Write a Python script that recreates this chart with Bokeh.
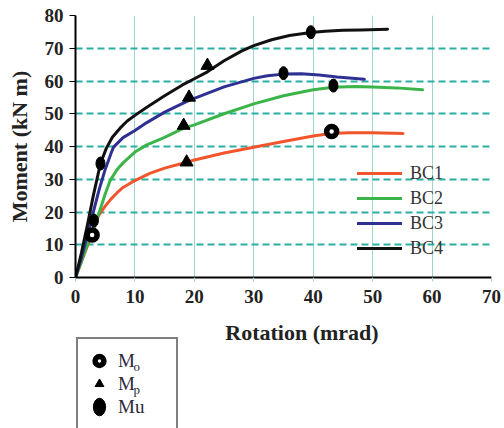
from bokeh.plotting import figure
from bokeh.models import Range1d, Legend, LegendItem, Label, FixedTicker
from bokeh.layouts import column
from bokeh.core.properties import value
from bokeh.embed import file_html
from bokeh.resources import INLINE

# ---- data ----
x_ticks = [0, 10, 20, 30, 40, 50, 60, 70]
y_ticks = [0, 10, 20, 30, 40, 50, 60, 70, 80]

bc1_x = [0, 1, 2, 3, 3.9, 5, 6, 7, 8, 10, 12.5, 15, 18.7, 20, 25, 30, 35, 40, 43, 46, 50, 55.1]
bc1_y = [0, 4.8, 9.6, 14.5, 19.0, 21.8, 24.0, 25.9, 27.5, 29.6, 31.8, 33.4, 35.2, 35.9, 38.0, 39.8, 41.5, 43.2, 44.0, 44.2, 44.2, 44.0]

bc2_x = [0, 1, 2, 3, 3.9, 5, 5.8, 7, 8, 10, 12, 15, 18.2, 20, 25, 30, 35, 40, 43.4, 47, 50, 54, 58.4]
bc2_y = [0, 5, 10, 15, 19.4, 25.5, 29.5, 33, 35, 38.3, 40.5, 42.8, 45.6, 46.6, 50, 53, 55.5, 57.3, 58.1, 58.3, 58.2, 57.9, 57.3]

bc3_x = [0, 1, 2, 3, 4, 5, 6, 6.4, 8, 10, 12, 15, 19.1, 20, 25, 30, 32.3, 35, 38, 41, 44, 48.6]
bc3_y = [0, 6, 13, 20, 27, 33, 38, 39.8, 42.7, 44.9, 47.3, 50.5, 54.1, 54.7, 58.2, 60.8, 61.6, 62.1, 62.2, 61.8, 61.2, 60.5]

bc4_x = [0, 1, 2, 3, 4.2, 5.2, 6.2, 7.5, 8.7, 10, 12, 15, 18, 20, 22.2, 25, 28, 30, 33, 36, 39.6, 42, 45, 48, 52.5]
bc4_y = [0, 7.5, 16, 25, 34.8, 39.5, 42.8, 45.6, 47.8, 49.5, 52, 55.5, 58.8, 60.7, 62.8, 66.2, 69.2, 70.8, 72.6, 73.9, 74.8, 75.2, 75.5, 75.6, 75.8]

series_names = ["BC1", "BC2", "BC3", "BC4"]
series_colors = ["#F2552C", "#3BB54A", "#2E3192", "#111111"]

mo_x = [43.1, 2.8]
mo_y = [44.6, 13.0]
mp_x = [18.7, 18.2, 19.1, 22.2]
mp_y = [35.2, 46.4, 55.0, 64.7]
mu_x = [43.4, 35.0, 39.6, 4.2, 3.1]
mu_y = [58.6, 62.4, 74.9, 34.8, 17.4]

marker_names = ["M", "M", "Mu"]
marker_subs = ["o", "p"]

SERIF = "Liberation Serif"
TEXT = "#222222"

MO_STYLE = dict(marker="circle", size=10, fill_color="white", line_color="black", line_width=5.5)
MP_STYLE = dict(marker="triangle", size=13, fill_color="black", line_color="black")
MU_STYLE = dict(width=9, height=13, width_units="screen", height_units="screen",
                fill_color="black", line_color="black")

# ---------------- main chart ----------------
p = figure(width=504, height=312, x_range=Range1d(0, 70), y_range=Range1d(0, 80),
           output_backend="svg", toolbar_location=None,
           min_border_left=75, min_border_right=13, min_border_top=15, min_border_bottom=35)
p.outline_line_color = None
p.background_fill_color = "white"
p.border_fill_color = "white"

p.xaxis.ticker = FixedTicker(ticks=x_ticks)
p.yaxis.ticker = FixedTicker(ticks=y_ticks)

p.ygrid.grid_line_color = "#2AB0A2"
p.ygrid.grid_line_width = 2
p.ygrid.grid_line_dash = "7 4"
p.xgrid.grid_line_color = "#9FD6D0"
p.xgrid.grid_line_width = 1

for ax in (p.xaxis[0], p.yaxis[0]):
    ax.axis_line_color = "black"
    ax.axis_line_width = 2
    ax.major_tick_in = 0
    ax.minor_tick_in = 0
    ax.minor_tick_out = 0
    ax.major_label_text_font = SERIF
    ax.major_label_text_font_style = "bold"
    ax.major_label_text_font_size = "19px"
    ax.major_label_text_color = TEXT

p.yaxis.major_tick_out = 6
p.yaxis.major_tick_line_color = "black"
p.yaxis.major_label_standoff = 6
p.yaxis.axis_label = "Moment (kN m)"
p.yaxis.axis_label_text_font = SERIF
p.yaxis.axis_label_text_font_style = "bold"
p.yaxis.axis_label_text_font_size = "22px"
p.yaxis.axis_label_text_color = TEXT
p.yaxis.axis_label_standoff = 10

p.xaxis.major_tick_out = 4
p.xaxis.major_tick_line_color = "#9FD6D0"
p.xaxis.major_label_standoff = 8

renderers = []
for xs, ys, col in zip([bc1_x, bc2_x, bc3_x, bc4_x], [bc1_y, bc2_y, bc3_y, bc4_y], series_colors):
    r = p.line(xs, ys, line_color=col, line_width=3, line_join="round", line_cap="round")
    renderers.append(r)

p.scatter(mo_x, mo_y, **MO_STYLE)
p.scatter(mp_x, mp_y, **MP_STYLE)
p.ellipse(mu_x, mu_y, **MU_STYLE)

bc_legend = Legend(items=[LegendItem(label=value(n), renderers=[r]) for n, r in zip(series_names, renderers)],
                   location=(282, 17), padding=0, margin=0, spacing=1,
                   glyph_width=45, glyph_height=24, label_height=24, label_standoff=8,
                   border_line_color=None, background_fill_alpha=0,
                   label_text_font=SERIF, label_text_font_size="18px", label_text_color="#333333")
p.add_layout(bc_legend)

# ---------------- lower strip: x title + marker key ----------------
# (its frame is aligned with the chart frame: x from 75 to 491 on the page)
q = figure(width=504, height=116, x_range=Range1d(100, 101), y_range=Range1d(100, 101),
           output_backend="svg", toolbar_location=None,
           x_axis_location=None, y_axis_location=None,
           min_border_left=75, min_border_right=13, min_border_top=0, min_border_bottom=0)
q.grid.visible = False
q.outline_line_color = None
q.background_fill_color = "white"
q.border_fill_color = "white"

# key glyphs reuse the marker data; they fall outside this strip's ranges, so only the key shows them
k_mo = q.scatter(mo_x, mo_y, **MO_STYLE)
k_mp = q.scatter(mp_x, mp_y, **MP_STYLE)
k_mu = q.ellipse(mu_x, mu_y, **MU_STYLE)

mk_legend = Legend(items=[LegendItem(label=value(n), renderers=[r])
                          for n, r in zip(marker_names, [k_mo, k_mp, k_mu])],
                   location=(1, -2), padding=10, margin=0, spacing=0,
                   glyph_width=22, glyph_height=23, label_height=23, label_width=48, label_standoff=8,
                   border_line_color="black", border_line_width=2,
                   background_fill_alpha=0,
                   label_text_font=SERIF, label_text_font_size="19px", label_text_color="#2a2a3a")
q.add_layout(mk_legend)

for sub, ypos in zip(marker_subs, [62, 39]):
    q.add_layout(Label(x=58, y=ypos, x_units="screen", y_units="screen", text=sub,
                       text_font=SERIF, text_font_size="13px", text_color="#2a2a3a",
                       text_baseline="alphabetic"))

q.add_layout(Label(x=226.5, y=96, x_units="screen", y_units="screen", text="Rotation (mrad)",
                   text_font=SERIF, text_font_style="bold", text_font_size="22px",
                   text_color=TEXT, text_align="center", text_baseline="middle"))

layout = column(p, q, spacing=0)
open("out.html", "w").write(file_html(layout, INLINE))
